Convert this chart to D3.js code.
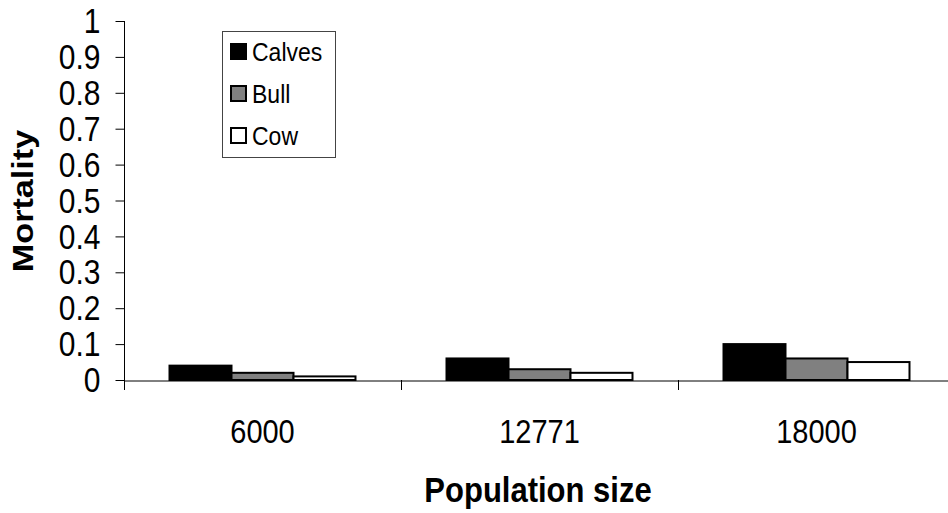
<!DOCTYPE html>
<html>
<head>
<meta charset="utf-8">
<script src="https://cdn.jsdelivr.net/npm/d3@7"></script>
<style>
  html, body { margin: 0; padding: 0; background: #fff; }
  svg { display: block; font-family: "Liberation Sans", Arial, sans-serif; }
</style>
</head>
<body>
<svg id="chart" width="948" height="513"></svg>
<script>
// Mortality by population size for each animal class
const categories = ["6000", "12771", "18000"];
const seriesNames = ["Calves", "Bull", "Cow"];
const calves = [0.04, 0.06, 0.10];
const bull = [0.02, 0.03, 0.06];
const cow = [0.01, 0.02, 0.05];
const yTicks = [0, 0.1, 0.2, 0.3, 0.4, 0.5, 0.6, 0.7, 0.8, 0.9, 1];
const fills = ["#000000", "#808080", "#ffffff"];

const values = [calves, bull, cow];
const rows = categories.map((c, i) => ({
  category: c,
  items: seriesNames.map((s, k) => ({ series: s, value: values[k][i] }))
}));

const svg = d3.select("#chart");
svg.append("rect").attr("width", 948).attr("height", 513).attr("fill", "#fff");

const stretch = 1.14; // text is drawn slightly taller than wide

const x0 = d3.scaleBand().domain(categories).range([124, 955]).padding(0);
const x1 = d3.scaleBand().domain(seriesNames).range([0, x0.bandwidth()])
  .paddingInner(0).paddingOuter(0.734);
const y = d3.scaleLinear().domain([0, 1]).range([380, 21]);
const color = d3.scaleOrdinal().domain(seriesNames).range(fills);

// Bars
const groups = svg.append("g").selectAll("g").data(rows).join("g")
  .attr("transform", d => `translate(${x0(d.category)},0)`);
groups.selectAll("rect").data(d => d.items).join("rect")
  .attr("x", d => x1(d.series))
  .attr("y", d => y(d.value))
  .attr("width", x1.bandwidth())
  .attr("height", d => y(0) - y(d.value))
  .attr("fill", d => color(d.series))
  .attr("stroke", "#000")
  .attr("stroke-width", 2);

// Y axis
const yAxis = svg.append("g").attr("transform", "translate(124.5,0)")
  .call(d3.axisLeft(y).tickValues(yTicks).tickSize(9).tickSizeOuter(0)
    .tickFormat(d3.format("~g")));
yAxis.select(".domain").remove();
yAxis.selectAll(".tick line").attr("stroke", "#000").attr("stroke-width", 1);
yAxis.selectAll(".tick text")
  .attr("x", null).attr("dy", null)
  .attr("font-size", 30).attr("fill", "#000")
  .attr("text-anchor", "end").attr("dominant-baseline", "central")
  .attr("transform", `translate(-24,0) scale(1,${stretch})`);
svg.append("line").attr("x1", 124.5).attr("x2", 124.5)
  .attr("y1", y(1)).attr("y2", 390).attr("stroke", "#000");

// X axis
const xAxis = svg.append("g").attr("transform", `translate(0,${y(0) + 0.5})`)
  .call(d3.axisBottom(x0).tickSize(0).tickSizeOuter(0));
xAxis.select(".domain").attr("stroke", "#000");
xAxis.selectAll(".tick text")
  .attr("y", null).attr("dy", null)
  .attr("font-size", 29).attr("fill", "#000")
  .attr("transform", `translate(0,62) scale(1,${stretch})`);
// category separators
svg.append("g").selectAll("line").data(categories.slice(1)).join("line")
  .attr("x1", d => x0(d) + 0.5).attr("x2", d => x0(d) + 0.5)
  .attr("y1", y(0)).attr("y2", 390)
  .attr("stroke", "#000");

// Axis titles
svg.append("text")
  .attr("transform", `translate(538,502) scale(1,${stretch})`)
  .attr("text-anchor", "middle").attr("font-weight", "bold")
  .attr("font-size", 31).attr("fill", "#000")
  .text("Population size");
svg.append("text")
  .attr("transform", `translate(33,201) scale(1,${stretch}) rotate(-90)`)
  .attr("text-anchor", "middle").attr("font-weight", "bold")
  .attr("font-size", 30).attr("fill", "#000")
  .text("Mortality");

// Legend
const legend = svg.append("g");
legend.append("rect")
  .attr("x", 222.5).attr("y", 31.5).attr("width", 113).attr("height", 126)
  .attr("fill", "#fff").attr("stroke", "#444").attr("stroke-width", 1);
const li = legend.selectAll("g").data(seriesNames).join("g")
  .attr("transform", (d, i) => `translate(231,${52 + i * 42})`);
li.append("rect")
  .attr("x", 0).attr("y", -8).attr("width", 15).attr("height", 15)
  .attr("fill", d => color(d)).attr("stroke", "#000").attr("stroke-width", 2);
li.append("text")
  .attr("transform", `translate(21,0) scale(1,${stretch})`)
  .attr("dominant-baseline", "central")
  .attr("font-size", 23).attr("fill", "#000")
  .text(d => d);
</script>
</body>
</html>
